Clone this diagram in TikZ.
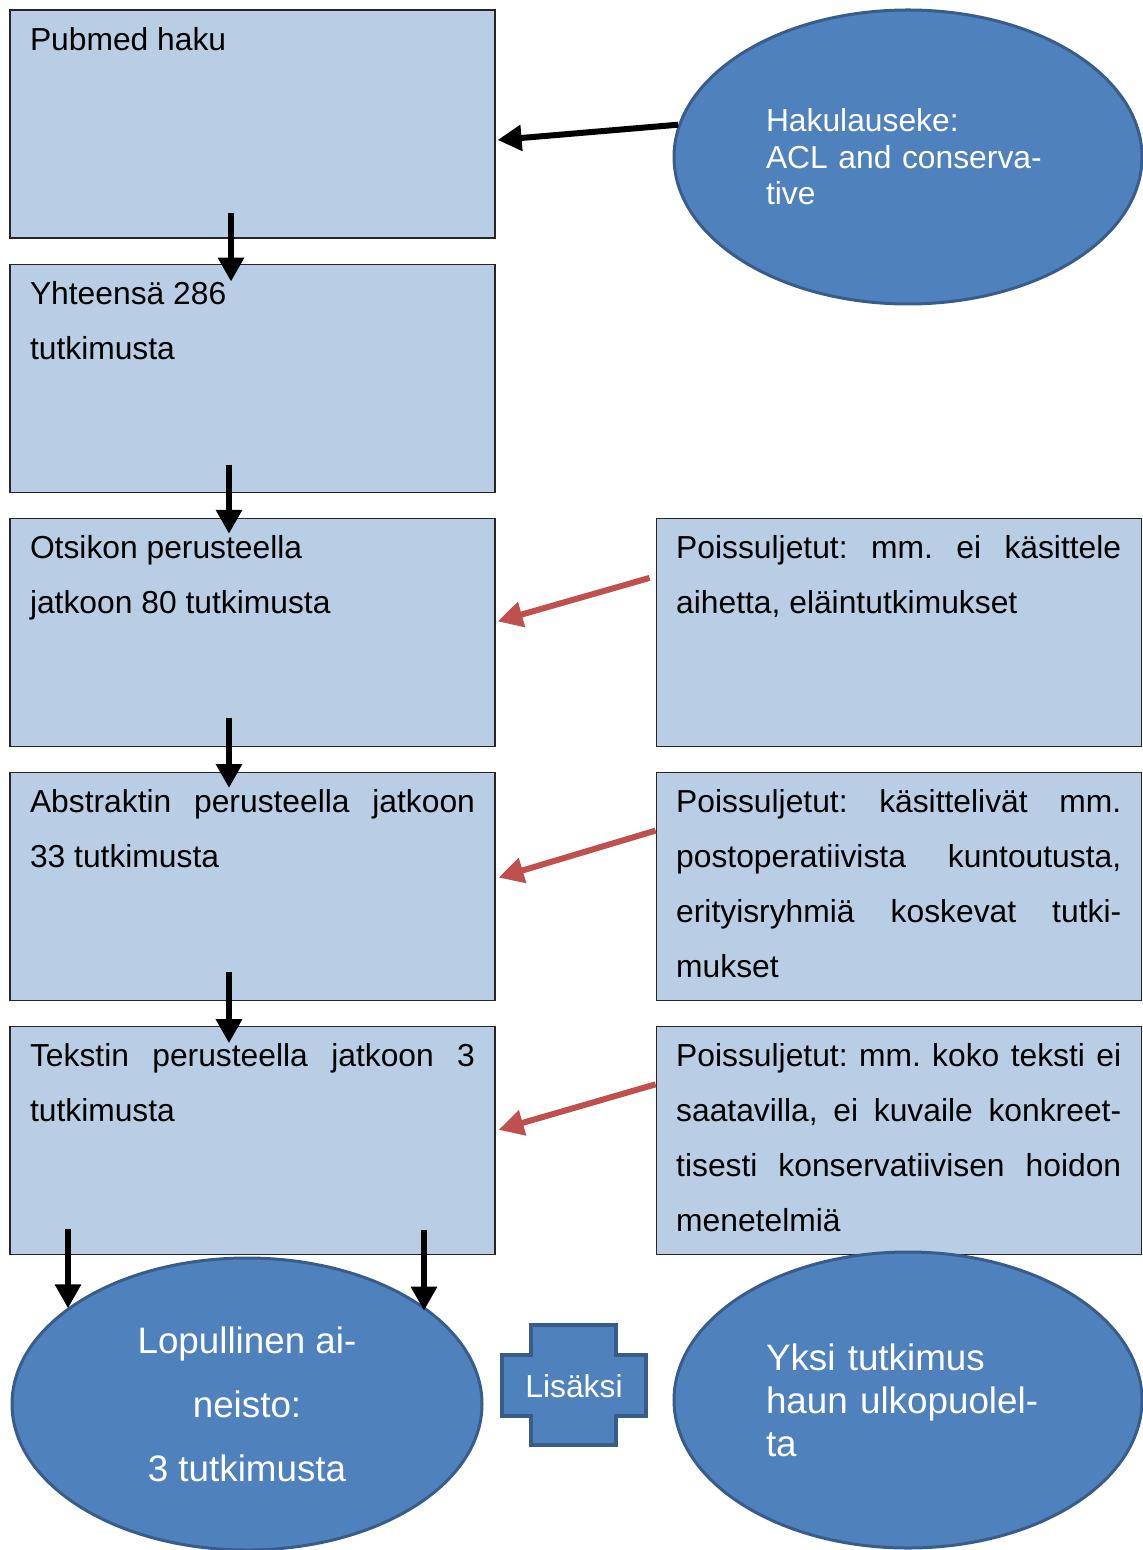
\documentclass[tikz,border=0pt]{standalone}
\usepackage{fontspec}
\setmainfont{Liberation Sans}
\usetikzlibrary{shapes, arrows.meta, positioning, calc}
\definecolor{boxblue}{HTML}{B9CDE5}
\definecolor{ellblue}{HTML}{4F81BD}
\definecolor{ellline}{HTML}{385D8A}
\definecolor{arrred}{HTML}{C0504D}
\newcommand{\boxtext}[1]{\parbox[t][97pt][t]{222.5pt}{\fontsize{15.9pt}{27.5pt}\selectfont #1}}
\pretolerance=10000 \tolerance=10000 \hbadness=10000
\frenchspacing

\begin{document}
\begin{tikzpicture}
		[x=0.5pt, y=-0.5pt,
	flowbox/.style={draw=black!85,line width=0.6pt,fill=boxblue,rectangle,node distance=12.5pt,inner xsep=10pt,inner ysep=8.5pt,minimum width=242.5pt,minimum height=114pt},
	bubble/.style={draw=ellline,line width=1.5pt,fill=ellblue,ellipse,inner sep=0pt,text=white},
	plusshape/.style={draw=ellline,line width=2pt,fill=ellblue},
	blk/.style={-{Triangle[length=12pt,width=12.5pt]},line width=3pt,black},
	redarr/.style={-{Triangle[length=12.5pt,width=12.5pt]},line width=3pt,arrred}
	]
		\useasboundingbox (0,0) rectangle (1142,1550);
		\node (pub) [flowbox] at (252.5,124) {\boxtext{Pubmed haku}};
		\node (tot) [flowbox,below=of pub] {\boxtext{Yhteensä 286\\tutkimusta}};
		\node (ots) [flowbox,below=of tot] {\boxtext{Otsikon perusteella\\jatkoon 80 tutkimusta}};
		\node (abst) [flowbox,below=of ots] {\boxtext{Abstraktin perusteella jatkoon\linebreak 33 tutkimusta}};
		\node (tek) [flowbox,below=of abst] {\boxtext{Tekstin perusteella jatkoon 3\linebreak tutkimusta}};
		\node (poi1) [flowbox,right=80pt of ots] {\boxtext{Poissuljetut: mm. ei käsittele\linebreak aihetta, eläintutkimukset}};
		\node (poi2) [flowbox,right=80pt of abst] {\boxtext{Poissuljetut: käsittelivät mm.\linebreak postoperatiivista kuntoutusta,\linebreak erityisryhmiä koskevat tutki-\linebreak mukset}};
		\node (poi3) [flowbox,right=80pt of tek] {\boxtext{Poissuljetut: mm. koko teksti ei\linebreak saatavilla, ei kuvaile konkreet-\linebreak tisesti konservatiivisen hoidon\linebreak menetelmiä}};
		\node (hak) [bubble,minimum width=234pt,minimum height=147pt,text width=142pt,align=left,font=\fontsize{15.9pt}{18.25pt}\selectfont] at (908,157) {Hakulauseke:\\ACL and conserva-\\tive};
		\node (fin) [bubble,minimum width=235pt,minimum height=146pt,align=center,font=\fontsize{18.4pt}{32pt}\selectfont] at (247,1404) {Lopullinen ai-\\neisto:\\3 tutkimusta};
		\node (yksi) [bubble,minimum width=234pt,minimum height=148pt,text width=142pt,align=left,font=\fontsize{18.4pt}{21.5pt}\selectfont] at (908,1400) {Yksi tutkimus\\haun ulkopuolel-\\ta};
		\draw [plusshape] (531,1325) -- (616,1325) -- (616,1355) -- (646,1355) -- (646,1416) -- (616,1416) -- (616,1445) -- (531,1445) -- (531,1416) -- (502,1416) -- (502,1355) -- (531,1355) -- cycle;
		\node (lis) [text=white,font=\fontsize{15.9pt}{18pt}\selectfont] at (574,1386) {Lisäksi};
	
		\coordinate (lt) at ($(tek.south)+(-184.5,-26)$);
		\coordinate (rt) at ($(tek.south)+(171.5,-25)$);
		\draw [blk] (hak.172) -- ($(pub.east)+(2,16)$);
		\draw [blk] ($(pub.south)+(-21.5,-26)$) -- ($(tot.north)+(-21.5,18)$);
		\draw [blk] ($(tot.south)+(-23.5,-28)$) -- ($(ots.north)+(-23.5,16)$);
		\draw [blk] ($(ots.south)+(-23.5,-29)$) -- ($(abst.north)+(-23.5,16)$);
		\draw [blk] ($(abst.south)+(-23.5,-29)$) -- ($(tek.north)+(-23.5,17)$);
		\draw [blk] (lt) -- (lt |- fin.152);
		\draw [blk] (rt) -- (rt |- fin.27);
		\draw [redarr] ($(poi1.west)+(-6,-54.5)$) -- ($(ots.east)+(2,-11)$);
		\draw [redarr] ($(poi2.west)+(0,-56)$) -- ($(abst.east)+(3,-9)$);
		\draw [redarr] ($(poi3.west)+(0,-56.5)$) -- ($(tek.east)+(3,-11)$);
	\end{tikzpicture}
\end{document}
